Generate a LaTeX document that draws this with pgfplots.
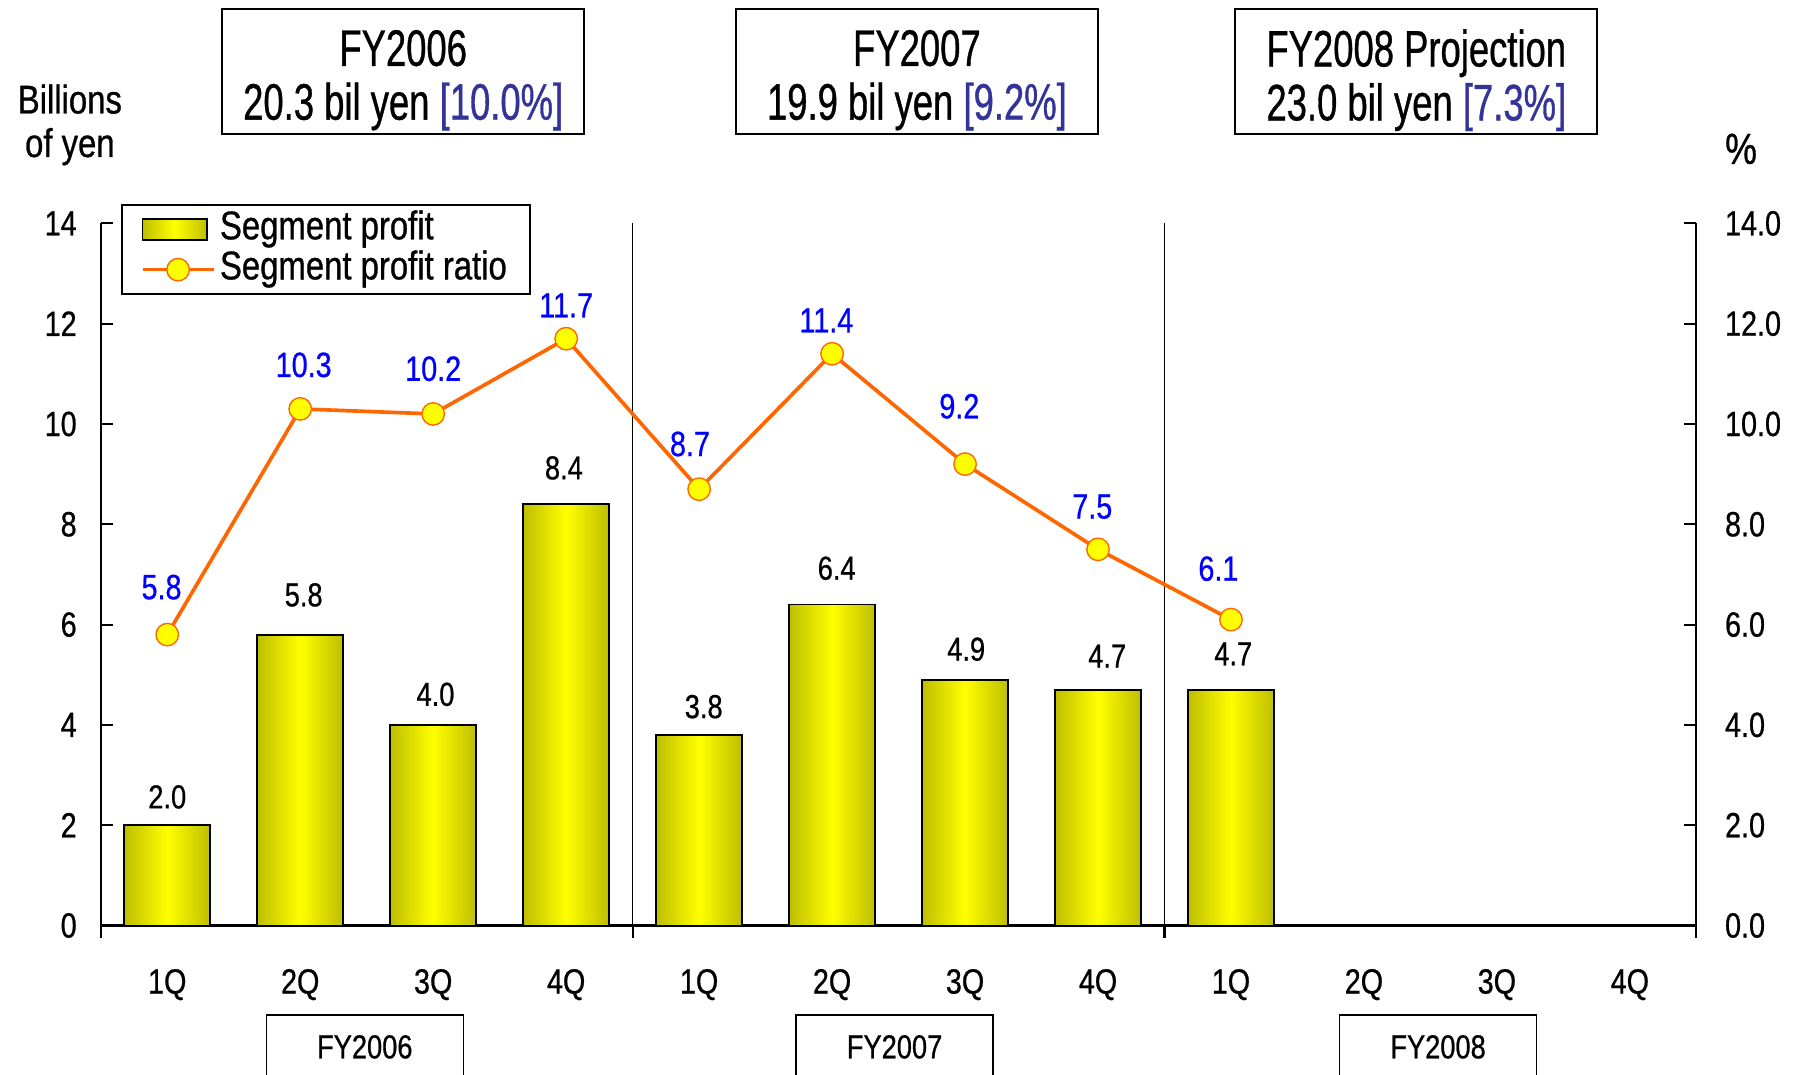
\documentclass[border=0pt]{standalone}
\usepackage{fontspec}
\setmainfont[FakeStretch=0.82, FakeBold=0.7]{Liberation Sans}
\newfontfamily\titlefont[FakeStretch=0.71, FakeBold=0.7]{Liberation Sans}
\usepackage{pgfplots}
\pgfplotsset{compat=1.18}
\definecolor{barolive}{RGB}{190,190,0}
\definecolor{baryel}{RGB}{255,255,0}
\definecolor{lineorange}{RGB}{255,102,0}
\definecolor{bracketblue}{RGB}{51,51,153}
\definecolor{lblblue}{RGB}{0,0,255}
\pgfplotsset{
  /pgf/number format/assume math mode=true,
  common/.style={
    scale only axis, width=696.5pt, height=306.5pt,
    xmin=-0.5, xmax=11.5, ymin=0, ymax=14,
    ytick={0,2,...,14},
    axis line style={line width=0.9pt},
    major tick length=5.3pt,
    tick style={line width=0.9pt, black},
    clip=false,
  },
  barstyle/.style={ybar, bar width=37.5pt, draw=black, line width=0.8pt,
    left color=barolive, right color=barolive, middle color=baryel},
  barleg/.style={legend image code/.code={\draw[##1] (0pt,-4.5pt) rectangle (28pt,4.5pt);}},
  lineleg/.style={legend image code/.code={\draw[##1,mark repeat=2,mark phase=2] plot coordinates {(0pt,0pt) (15.5pt,0pt) (31pt,0pt)};}},
}
\pgfplotstableread{
x y dx dy
0 2.0 0 7
1 5.8 1.5 12
2 4.0 1 8
3 8.4 -1 10.5
4 3.8 2 7
5 6.4 2 10.5
6 4.9 0.5 8
7 4.7 4 9.5
8 4.7 1 10.5
}\bardata
\pgfplotstableread{
x y dx dy
0 5.8 -2.5 15
1 10.3 1.5 13.5
2 10.2 0 14
3 11.7 0 9
4 8.7 -4 14
5 11.4 -2.5 9
6 9.2 -2.5 19.5
7 7.5 -2.5 13
8 6.1 -5.5 16.5
}\ratiodata
\begin{document}
\begin{tikzpicture}
\path[use as bounding box] (-44pt,-65pt) rectangle (740pt,404pt);
\begin{axis}[common,
  axis x line*=bottom, axis y line*=left,
  xtick={-0.5,3.5,7.5,11.5},
  xticklabels={},
  x tick style={yshift=-5.3pt},
  xmajorgrids, major x grid style={black, line width=0.7pt},
  extra x ticks={0,...,11},
  extra x tick labels={1Q,2Q,3Q,4Q,1Q,2Q,3Q,4Q,1Q,2Q,3Q,4Q},
  extra x tick style={major tick length=0pt, grid=none},
  x tick label style={font=\fontsize{15.3}{16}\selectfont, yshift=-15.5pt},
  y tick label style={font=\fontsize{15.3}{16}\selectfont, xshift=-7pt},
]
\addplot[barstyle] coordinates {(0,2.0)};
\addplot[barstyle] coordinates {(1,5.8)};
\addplot[barstyle] coordinates {(2,4.0)};
\addplot[barstyle] coordinates {(3,8.4)};
\addplot[barstyle] coordinates {(4,3.8)};
\addplot[barstyle] coordinates {(5,6.4)};
\addplot[barstyle] coordinates {(6,4.9)};
\addplot[barstyle] coordinates {(7,4.7)};
\addplot[barstyle] coordinates {(8,4.7)};
\addplot[draw=none, mark=none,
  visualization depends on={\thisrow{dx} \as \dx},
  visualization depends on={\thisrow{dy} \as \dy},
  nodes near coords={\pgfmathprintnumber[fixed,fixed zerofill,precision=1]{\pgfplotspointmeta}},
  nodes near coords style={black, anchor=south, inner sep=0pt, xshift=\dx pt, yshift=\dy pt, font=\fontsize{14.5}{15}\selectfont}]
  table[x=x, y=y] {\bardata};
\end{axis}
\begin{axis}[common,
  axis x line=none, axis y line*=right,
  y tick label style={font=\fontsize{15.3}{16}\selectfont, xshift=9pt,
    /pgf/number format/fixed, /pgf/number format/fixed zerofill, /pgf/number format/precision=1},
  legend style={at={(0.0129,1.0277)}, anchor=north west, draw=black, line width=0.9pt,
    font=\fontsize{17.5}{17.5}\selectfont, inner xsep=8pt, inner ysep=2.5pt,
    nodes={inner xsep=2pt, inner ysep=0pt, text height=12.5pt, text depth=4pt},
    row sep=1pt},
  legend cell align=left,
]
\addlegendimage{barleg, barstyle}
\addlegendentry{Segment profit}
\addplot[lineleg, lineorange, line width=1.6pt, mark=*, mark size=4.9pt,
  mark options={fill=baryel, draw=lineorange, line width=0.6pt},
  visualization depends on={\thisrow{dx} \as \dx},
  visualization depends on={\thisrow{dy} \as \dy},
  nodes near coords={\pgfmathprintnumber[fixed,fixed zerofill,precision=1]{\pgfplotspointmeta}},
  nodes near coords style={lblblue, anchor=south, inner sep=0pt, xshift=\dx pt, yshift=\dy pt, font=\fontsize{15.3}{16}\selectfont}]
  table[x=x, y=y] {\ratiodata};
\addlegendentry{Segment profit ratio}
\end{axis}
% titles
\tikzset{tbox/.style={draw, line width=0.9pt, minimum width=158pt, minimum height=54.5pt, inner sep=0pt},
  ttext/.style={align=center, inner sep=0pt, font=\titlefont\fontsize{22.4}{23.5}\selectfont}}
\node[tbox] at (132pt,372.75pt) {};
\node[ttext] at (132pt,369pt) {FY2006\\20.3 bil yen \textcolor{bracketblue}{[10.0\%]}};
\node[tbox] at (356.25pt,372.75pt) {};
\node[ttext] at (356.25pt,369pt) {FY2007\\19.9 bil yen \textcolor{bracketblue}{[9.2\%]}};
\node[tbox] at (574.25pt,372.75pt) {};
\node[ttext] at (574.25pt,369pt) {FY2008 Projection\\23.0 bil yen \textcolor{bracketblue}{[7.3\%]}};
\node[align=center, font=\fontsize{17.5}{19}\selectfont] at (-13.5pt,349.5pt) {Billions\\of yen};
\node[font=\fontsize{19}{20}\selectfont] at (716pt,339pt) {\%};
% bottom boxes
\foreach \cx/\lab in {115.25/FY2006, 346.5/FY2007, 583.75/FY2008}{
  \draw[line width=0.7pt] (\cx pt-43pt,-80pt) -- (\cx pt-43pt,-39pt) -- (\cx pt+43pt,-39pt) -- (\cx pt+43pt,-80pt);
  \node[font=\fontsize{14.5}{15}\selectfont] at (\cx pt,-53pt) {\lab};
}
\end{tikzpicture}
\end{document}
